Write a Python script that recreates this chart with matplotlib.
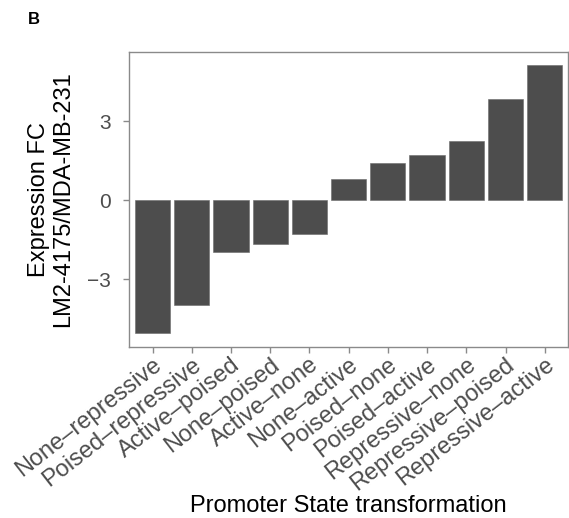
import numpy as np
import matplotlib.pyplot as plt

# promoter state transitions and expression fold change
transitions = ["None–repressive", "Poised–repressive", "Active–poised", "None–poised",
               "Active–none", "None–active", "Poised–none", "Poised–active",
               "Repressive–none", "Repressive–poised", "Repressive–active"]
fold_change = [-5.06, -3.99, -1.96, -1.65, -1.27, 0.82, 1.41, 1.70, 2.26, 3.84, 5.13]
yticks = [-3, 0, 3]

plt.rcParams['font.family'] = ['Liberation Sans', 'DejaVu Sans']

fig = plt.figure(figsize=(5.69, 5.18), dpi=100)
ax = fig.add_axes([0.2267, 0.3307, 0.772, 0.5695])

x = np.arange(len(transitions))
ax.bar(x, fold_change, width=0.9, color="#4d4d4d", edgecolor="#6a6a6a", linewidth=0.4)

ax.set_xlim(-0.6, len(transitions) - 0.4)
ax.set_ylim(-5.57, 5.64)
ax.set_yticks(yticks)
ax.set_yticklabels([str(v).replace("-", "\u2212") for v in yticks])
ax.set_xticks(x)
ax.set_xticklabels(transitions, rotation=38, ha="right", va="top",
                   rotation_mode="anchor")

for s in ax.spines.values():
    s.set_color("#8a8a8a")
    s.set_linewidth(1.0)
ax.tick_params(axis="both", colors="#8a8a8a", length=4, width=1.0,
               labelcolor="#4d4d4d", labelsize=17)
ax.tick_params(axis="x", pad=1)
ax.tick_params(axis="y", labelsize=15, pad=9)

ax.set_ylabel("Expression FC\nLM2-4175/MDA-MB-231", fontsize=17,
              linespacing=1.15, labelpad=9)
ax.set_xlabel("Promoter State transformation", fontsize=17, labelpad=0)

fig.text(0.049, 0.963, "B", fontsize=12, fontweight="bold", ha="left", va="center")

fig.savefig("out.png", dpi=100)
